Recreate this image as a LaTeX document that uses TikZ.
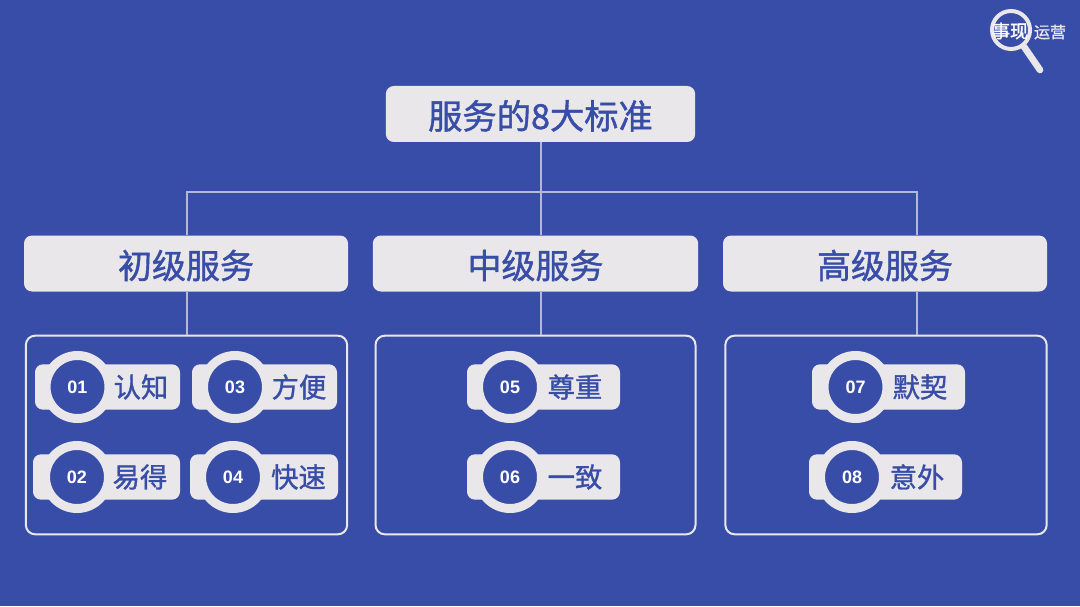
\documentclass[tikz,border=0pt]{standalone}
\usepackage{fontspec}
\setmainfont{Liberation Sans}
\newfontfamily\cjk[FakeBold=1.2]{Noto Sans CJK SC}
\newfontfamily\cjkb[FakeBold=2]{Noto Sans CJK SC}
\definecolor{bgblue}{HTML}{384DA7}
\definecolor{boxgrey}{HTML}{E9E7EA}
\definecolor{wire}{HTML}{B4B8D2}
\tikzset{
  headbox/.style={fill=boxgrey, rounded corners=6pt, inner sep=0pt, text=bgblue, font=\cjk\fontsize{25.5}{30}\selectfont, minimum height=42pt, text height=25pt, text depth=2.6pt},
  groupbox/.style={draw=boxgrey, line width=1.5pt, rounded corners=7pt, inner sep=0pt, minimum height=149pt},
  pillbox/.style={fill=boxgrey, rounded corners=6pt, inner sep=0pt, minimum height=34pt},
  ringnode/.style={circle, draw=boxgrey, fill=bgblue, line width=6.75pt, inner sep=0pt, minimum size=47.25pt, text=white, font=\bfseries\fontsize{13.5}{16}\selectfont},
  wordnode/.style={inner sep=0pt, text=bgblue, font=\cjk\fontsize{20.5}{24}\selectfont},
  wireline/.style={draw=wire, line width=0.9pt}
}
\begin{document}
\begin{tikzpicture}[x=0.75pt, y=-0.75pt]
  \fill[bgblue] (0,0) rectangle (1080,606);
  \useasboundingbox (0,0) rectangle (1080,606);
  % top and second row
  \node[headbox, minimum width=232pt] (title) at (540.5,114) {\fontsize{25.7}{30}\selectfont 服务的8大标准};
  \node[headbox, minimum width=243pt] (basic) at (186,263.5) {初级服务};
  \node[headbox, minimum width=244pt] (middle) at (535.5,263.5) {中级服务};
  \node[headbox, minimum width=243pt] (senior) at (885,263.5) {高级服务};
  % frames
  \node[groupbox, minimum width=241pt] (basicframe) at (186.5,435) {};
  \node[groupbox, minimum width=240pt] (middleframe) at (535.5,435) {};
  \node[groupbox, minimum width=241pt] (seniorframe) at (886,435) {};
  % wires
  \coordinate (busA) at (187,192);
  \coordinate (busB) at (541,192);
  \coordinate (busC) at (917,192);
  \draw[wireline] (title.south -| busB) -- (busB |- middle.north);
  \draw[wireline] (busA |- basic.north) -- (busA) -- (busC) -- (busC |- senior.north);
  \draw[wireline] (busA |- basic.south) -- (busA |- basicframe.north);
  \draw[wireline] (busB |- middle.south) -- (busB |- middleframe.north);
  \draw[wireline] (busC |- senior.south) -- (busC |- seniorframe.north);
  % items
  \foreach \num/\px/\pw/\rx/\ry/\tx/\word in {
    01/107.5/145/77.5/387/141/认知,
    03/264.5/145/235/387/299/方便,
    02/106.5/147/77/477/140/易得,
    04/264/148/233/477/298.5/快速,
    05/543.5/153/510/387/575/尊重,
    06/543.5/153/510/477/575/一致,
    07/888.5/153/855.5/387/920/默契,
    08/885.5/153/852/477/917/意外}{
    \node[pillbox, minimum width=\pw*0.75pt] (pill\num) at (\px,\ry) {};
    \node[ringnode] (ring\num) at (\rx,\ry) {\num};
    \node[wordnode] (word\num) at (\tx,\ry) {\word};
  }
  % logo
  \node[circle, draw=boxgrey, line width=3pt, minimum size=28.5pt, inner sep=0pt] (lens) at (1011,30) {};
  \coordinate (handle) at (1040,70);
  \draw[boxgrey, line width=5pt, line cap=round] (lens.-52) -- (handle);
  \node[inner sep=0pt, text=white, font=\cjkb\fontsize{13.5}{16}\selectfont] (logoa) at (1010,31) {事现};
  \node[inner sep=0pt, text=boxgrey, font=\cjk\fontsize{12}{14}\selectfont] (logob) at (1050,32) {运营};
\end{tikzpicture}
\end{document}
